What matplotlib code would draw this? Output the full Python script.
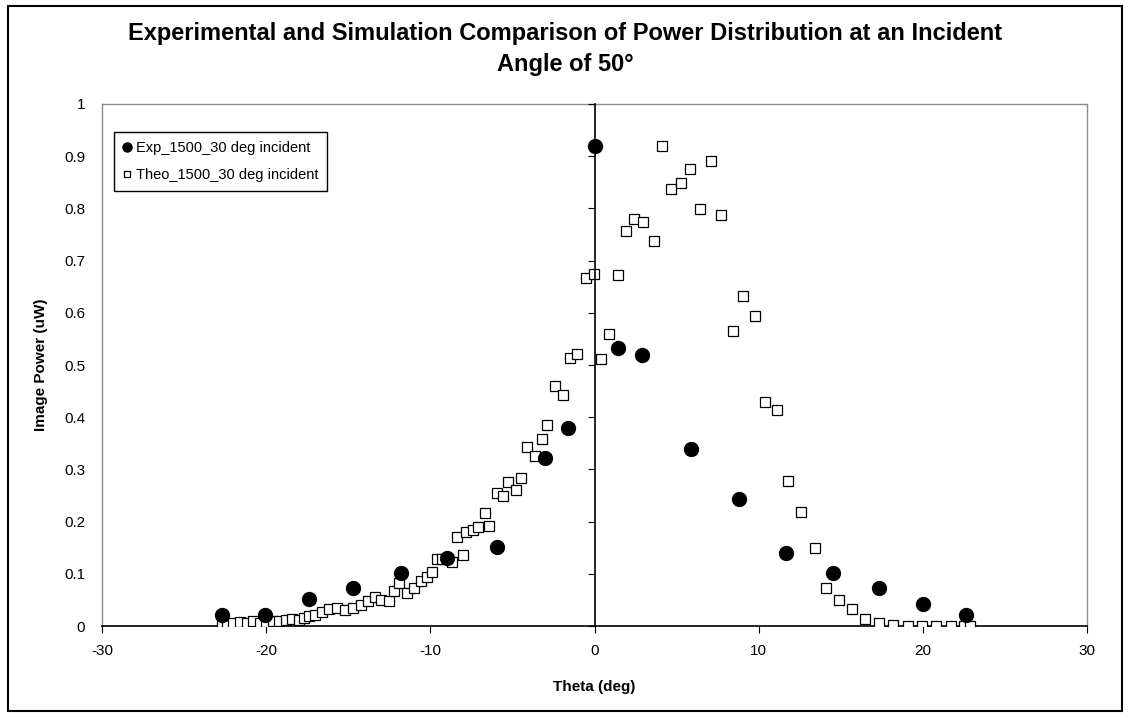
import matplotlib.pyplot as plt
from matplotlib.patches import Rectangle

plt.rcParams['font.family'] = ['Liberation Sans', 'DejaVu Sans']
plt.rcParams['axes.unicode_minus'] = False

# experimental points
exp_theta = [-22.7, -20.1, -17.4, -14.7, -11.8, -9.0, -5.95, -3.0, -1.6, 0.0,
             1.45, 2.9, 5.85, 8.8, 11.65, 14.5, 17.3, 20.0, 22.6]
exp_power = [0.022, 0.022, 0.051, 0.073, 0.102, 0.13, 0.151, 0.321, 0.38, 0.92,
             0.532, 0.52, 0.34, 0.243, 0.14, 0.101, 0.072, 0.042, 0.021]

# simulation points
theo_theta = [-22.7, -22.4, -22.0, -21.6, -21.2, -20.8, -20.4, -20.0, -19.6, -19.2,
              -18.8, -18.4, -18.0, -17.7, -17.4, -17.0, -16.6, -16.2, -15.7, -15.2,
              -14.7, -14.2, -13.8, -13.4, -13.0, -12.5, -12.2, -11.9, -11.4, -11.0,
              -10.6, -10.2, -9.9, -9.6, -9.3, -8.7, -8.4, -8.0, -7.8, -7.4,
              -7.1, -6.7, -6.4, -5.95, -5.6, -5.25, -4.8, -4.5, -4.1, -3.6,
              -3.2, -2.9, -2.4, -1.9, -1.5, -1.05, -0.55, -0.05, 0.37, 0.9,
              1.45, 1.9, 2.4, 2.95, 3.6, 4.1, 4.65, 5.25, 5.8, 6.45,
              7.1, 7.7, 8.45, 9.05, 9.8, 10.4, 11.1, 11.8, 12.6, 13.4,
              14.1, 14.9, 15.7, 16.5, 17.3, 18.2, 19.1, 19.95, 20.8, 21.7,
              22.5, 22.9]
theo_power = [0.005, 0.002, 0.006, 0.008, 0.005, 0.01, 0.006, 0.008, 0.01, 0.009,
              0.012, 0.013, 0.012, 0.016, 0.019, 0.022, 0.026, 0.032, 0.035, 0.030,
              0.035, 0.04, 0.048, 0.055, 0.05, 0.048, 0.068, 0.083, 0.063, 0.073,
              0.086, 0.093, 0.103, 0.128, 0.129, 0.122, 0.17, 0.136, 0.181, 0.184,
              0.189, 0.216, 0.192, 0.255, 0.249, 0.276, 0.261, 0.284, 0.343, 0.326,
              0.358, 0.386, 0.46, 0.442, 0.514, 0.522, 0.667, 0.675, 0.511, 0.56,
              0.672, 0.757, 0.78, 0.774, 0.737, 0.92, 0.837, 0.848, 0.875, 0.799,
              0.89, 0.788, 0.566, 0.633, 0.594, 0.43, 0.414, 0.278, 0.219, 0.149,
              0.072, 0.049, 0.032, 0.013, 0.005, 0.002, 0.001, 0.0, 0.0, 0.0,
              0.0, 0.0]

x_ticks = [-30, -20, -10, 0, 10, 20, 30]
y_ticks = [0, 0.1, 0.2, 0.3, 0.4, 0.5, 0.6, 0.7, 0.8, 0.9, 1]
y_labels = ['0', '0.1', '0.2', '0.3', '0.4', '0.5', '0.6', '0.7', '0.8', '0.9', '1']

fig = plt.figure(figsize=(11.3, 7.19), dpi=100)
ax = fig.add_axes([0.0903, 0.1293, 0.8717, 0.7261])

ax.plot(exp_theta, exp_power, 'o', color='black', ms=10, zorder=4,
        label='Exp_1500_30 deg incident')
ax.plot(theo_theta, theo_power, 's', mfc='white', mec='black', mew=0.9, ms=7,
        zorder=3, label='Theo_1500_30 deg incident')

ax.set_xlim(-30, 30)
ax.set_ylim(0, 1)
ax.set_xticks(x_ticks)
ax.set_yticks(y_ticks)
ax.set_yticklabels(y_labels)
ax.tick_params(axis='x', direction='out', length=5, labelsize=11, pad=8)
ax.tick_params(axis='y', length=0, labelsize=11, pad=12)

for side in ['left', 'right', 'top']:
    ax.spines[side].set_color('#8c8c8c')
    ax.spines[side].set_linewidth(1)
ax.spines['bottom'].set_color('black')
ax.spines['bottom'].set_linewidth(1.2)

# value axis crossing at theta = 0
ax2 = ax.twinx()
ax2.set_ylim(0, 1)
ax2.set_yticks(y_ticks)
ax2.spines['right'].set_position(('data', 0))
ax2.spines['right'].set_color('black')
ax2.spines['right'].set_linewidth(1.2)
for side in ['left', 'top', 'bottom']:
    ax2.spines[side].set_visible(False)
ax2.tick_params(axis='y', direction='in', length=5, labelright=False)

ax.set_xlabel('Theta (deg)', fontsize=11, fontweight='bold', labelpad=16)
ax.set_ylabel('Image Power (uW)', fontsize=11, fontweight='bold', labelpad=12)

fig.text(0.5, 0.97, 'Experimental and Simulation Comparison of Power Distribution at an Incident\nAngle of 50\u00b0',
         ha='center', va='top', fontsize=17, fontweight='bold', linespacing=1.45)

leg = ax.legend(loc='upper left', bbox_to_anchor=(0.005, 0.96), fontsize=10.5,
                fancybox=False, edgecolor='black', framealpha=1, markerscale=0.65,
                handlelength=0.6, handletextpad=0.3, borderpad=0.6, labelspacing=0.9)
leg.get_frame().set_linewidth(1)
leg.set_zorder(10)

fig.patches.append(Rectangle((0.007, 0.011), 0.986, 0.98, transform=fig.transFigure,
                             fill=False, edgecolor='black', linewidth=1.5))

fig.savefig('out.png', dpi=100)
